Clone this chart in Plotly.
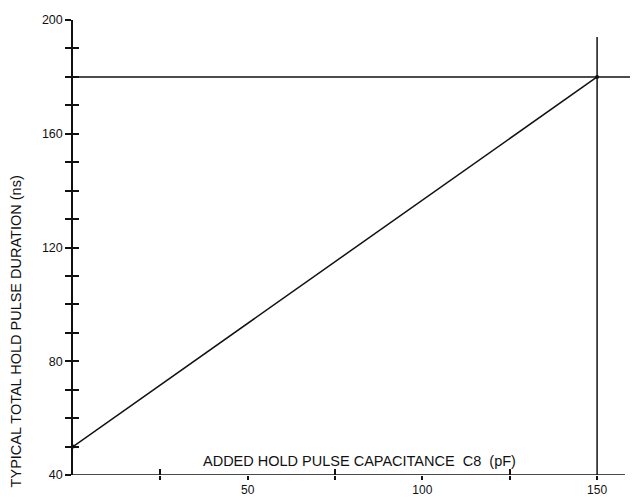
import plotly.graph_objects as go

# Data
cap_pf = [0, 150]                 # added hold pulse capacitance C8 (pF)
duration_ns = [50, 180]           # typical total hold pulse duration (ns)
ref_h_x = [0, 165]                # horizontal reference line at 180 ns
ref_h_y = [180, 180]
ref_v_x = [150, 150]              # vertical reference line at 150 pF
ref_v_y = [40, 194]
xaxis_line_x = [0, 158]
xaxis_line_y = [40, 40]

y_ticks = list(range(40, 201, 10))
y_labels = [str(v) if v % 40 == 0 else "" for v in y_ticks]
x_ticks = [25, 50, 75, 100, 125, 150]
x_labels = ["", "50", "", "100", "", "150"]
x_cross_ticks = [25, 75, 125]

FONT = "Liberation Sans, Arial"
INK = "#111111"

fig = go.Figure()
fig.add_trace(go.Scatter(x=xaxis_line_x, y=xaxis_line_y, mode="lines",
                         line=dict(color=INK, width=1.5), hoverinfo="skip"))
fig.add_trace(go.Scatter(x=ref_h_x, y=ref_h_y, mode="lines",
                         line=dict(color=INK, width=1.5), hoverinfo="skip"))
fig.add_trace(go.Scatter(x=ref_v_x, y=ref_v_y, mode="lines",
                         line=dict(color=INK, width=1.5), hoverinfo="skip"))
fig.add_trace(go.Scatter(x=cap_pf, y=duration_ns, mode="lines+markers",
                         line=dict(color=INK, width=1.5),
                         marker=dict(color=INK, size=4)))
# invisible trace to hold the overlay axes
fig.add_trace(go.Scatter(x=[0], y=[40], xaxis="x2", yaxis="y2", mode="markers",
                         marker=dict(opacity=0), hoverinfo="skip"))

XR = [0, 164]
fig.update_layout(
    width=638, height=499,
    margin=dict(l=65, r=0, t=12, b=32),
    paper_bgcolor="white", plot_bgcolor="white",
    showlegend=False,
    font=dict(family=FONT, color=INK, size=12),
    xaxis=dict(range=XR, showgrid=False, zeroline=False, showline=False,
               tickmode="array", tickvals=x_ticks, ticktext=x_labels,
               ticks="outside", ticklen=4, tickwidth=1.5, tickcolor=INK,
               tickfont=dict(size=12, family=FONT, color=INK)),
    xaxis2=dict(range=XR, overlaying="x", anchor="y", showgrid=False,
                zeroline=False, showline=False, tickmode="array",
                tickvals=x_cross_ticks, ticks="inside", ticklen=6,
                tickwidth=1.5, tickcolor=INK, showticklabels=False),
    yaxis=dict(range=[40, 200], showgrid=False, zeroline=False, showline=True,
               linecolor=INK, linewidth=1.5,
               tickmode="array", tickvals=y_ticks, ticktext=y_labels,
               ticks="outside", ticklen=6, tickwidth=1.5, tickcolor=INK,
               tickfont=dict(size=12.5, family=FONT, color=INK)),
    yaxis2=dict(range=[40, 200], overlaying="y", anchor="x", side="left",
                showgrid=False, zeroline=False, showline=False,
                tickmode="array", tickvals=y_ticks[:-1], ticks="inside",
                ticklen=6, tickwidth=1.5, tickcolor=INK, showticklabels=False),
    annotations=[
        dict(text="ADDED HOLD PULSE CAPACITANCE  C8  (pF)", x=82, y=45,
             xref="x", yref="y", showarrow=False, xanchor="center",
             font=dict(size=14.5, family=FONT, color=INK)),
        dict(text="TYPICAL TOTAL HOLD PULSE DURATION (ns)", x=-0.1, y=0.315,
             xref="paper", yref="paper", showarrow=False, textangle=-90,
             xanchor="center", yanchor="middle",
             font=dict(size=14.5, family=FONT, color=INK)),
    ],
)

fig.write_html("out.html")
